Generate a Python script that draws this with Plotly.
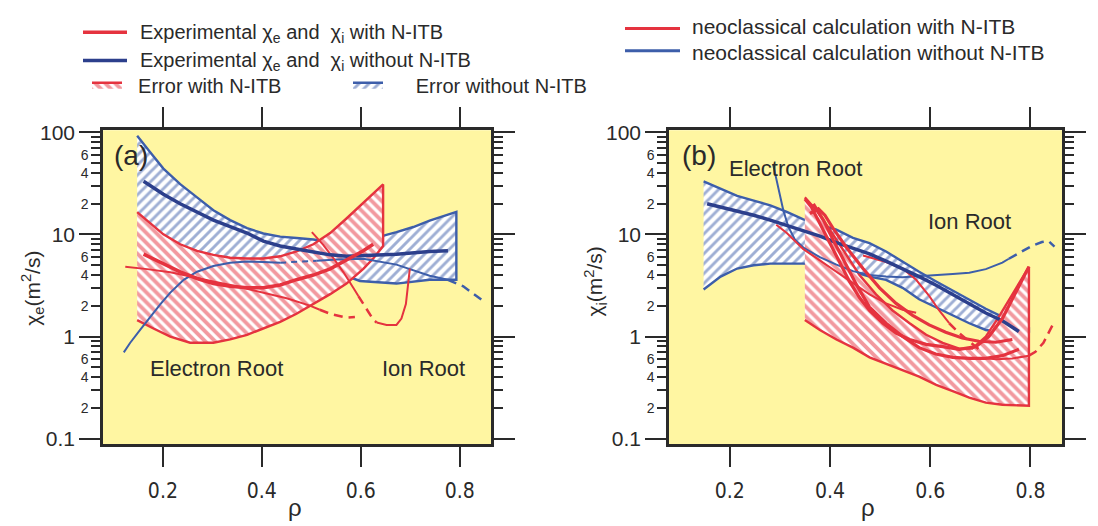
import plotly.graph_objects as go

RED = '#E5333F'
BLUE = '#3D5EAA'
DBLUE = '#2C3F8C'
YELLOW = '#FFF6A2'
AX = '#2a2a2a'
W, H = 1098, 526

# ---------------- panel (a): chi_e ----------------
a_bband_up_x = [0.148, 0.161, 0.174, 0.201, 0.235, 0.269, 0.302, 0.336, 0.370, 0.403, 0.437,
                0.470, 0.504, 0.538, 0.571, 0.605, 0.639, 0.672, 0.706, 0.739, 0.793]
a_bband_up_y = [92, 76, 64, 44, 31, 23, 17.2, 13.8, 11.5, 10.2, 9.5, 9.2, 8.9, 8.4, 8.3, 8.6,
                9.5, 10.5, 11.8, 13.6, 16.6]
a_bband_lo_x = [0.148, 0.269, 0.403, 0.538, 0.598, 0.672, 0.739, 0.793]
a_bband_lo_y = [5.8, 5.4, 5.0, 4.5, 3.5, 3.3, 3.6, 3.6]

a_rband_up_x = [0.148, 0.174, 0.201, 0.235, 0.269, 0.302, 0.336, 0.370, 0.403, 0.437, 0.470,
                0.504, 0.538, 0.571, 0.605, 0.625, 0.645]
a_rband_up_y = [16.5, 12.9, 10.0, 8.0, 6.9, 6.3, 5.9, 5.8, 5.8, 6.1, 6.8, 8.0, 10.3, 14.3,
                20.2, 24.7, 30.8]
a_rband_lo_x = [0.148, 0.161, 0.181, 0.215, 0.255, 0.302, 0.336, 0.370, 0.403, 0.437, 0.470,
                0.504, 0.538, 0.571, 0.605, 0.625, 0.645]
a_rband_lo_y = [1.45, 1.35, 1.2, 1.0, 0.87, 0.87, 0.94, 1.04, 1.2, 1.39, 1.67, 2.1, 2.6, 3.3,
                4.6, 5.8, 7.7]

a_bexp_x = [0.161, 0.201, 0.235, 0.269, 0.302, 0.336, 0.370, 0.403, 0.437, 0.470, 0.504,
            0.538, 0.571, 0.605, 0.672, 0.739, 0.776]
a_bexp_y = [33.1, 24.7, 19.9, 16.5, 13.8, 11.9, 10.3, 8.6, 7.7, 7.2, 6.7, 6.3, 6.1, 6.2, 6.4,
            6.8, 6.9]

a_rexp_x = [0.161, 0.201, 0.235, 0.269, 0.302, 0.336, 0.370, 0.403, 0.437, 0.470, 0.504,
            0.538, 0.571, 0.605, 0.625]
a_rexp_y = [6.4, 5.2, 4.3, 3.7, 3.3, 3.1, 3.0, 3.0, 3.2, 3.6, 4.0, 4.6, 5.6, 6.9, 8.0]

a_bneo1_x = [0.121, 0.134, 0.154, 0.174, 0.195, 0.215, 0.242, 0.269, 0.302, 0.336, 0.370,
             0.403, 0.437]
a_bneo1_y = [0.70, 0.87, 1.16, 1.56, 2.08, 2.69, 3.59, 4.31, 4.91, 5.28, 5.44, 5.36, 5.28]
a_bneo2_x = [0.437, 0.470, 0.511]
a_bneo2_y = [5.28, 5.36, 5.52]
a_bneo3_x = [0.511, 0.551, 0.605, 0.672, 0.739, 0.776]
a_bneo3_y = [5.52, 5.69, 5.77, 5.06, 3.94, 3.59]
a_bneo4_x = [0.776, 0.807, 0.844]
a_bneo4_y = [3.59, 3.10, 2.29]

a_rneo1_x = [0.124, 0.168, 0.215, 0.269, 0.309, 0.349, 0.403, 0.450, 0.497, 0.517]
a_rneo1_y = [4.81, 4.57, 4.25, 3.78, 3.41, 3.10, 2.69, 2.37, 2.01, 1.83]
a_rneo2_x = [0.517, 0.538, 0.571, 0.588]
a_rneo2_y = [1.83, 1.67, 1.53, 1.55]
a_rneo3_x = [0.501, 0.524, 0.544, 0.565, 0.585, 0.595]
a_rneo3_y = [10.5, 7.9, 5.9, 4.25, 2.99, 2.49]
a_rneo4_x = [0.595, 0.605, 0.625, 0.632]
a_rneo4_y = [2.49, 2.08, 1.47, 1.37]
a_rneo5_x = [0.632, 0.652, 0.672, 0.682, 0.691, 0.699]
a_rneo5_y = [1.37, 1.30, 1.30, 1.50, 2.08, 4.63]

# ---------------- panel (b): chi_i ----------------
b_bband_up_x = [0.148, 0.182, 0.215, 0.248, 0.281, 0.314, 0.347, 0.380, 0.413, 0.446, 0.479,
                0.512, 0.545, 0.578, 0.612, 0.645, 0.678, 0.711, 0.744, 0.770, 0.797]
b_bband_up_y = [33, 28.2, 23.8, 21.4, 19.2, 16.6, 14.0, 12.4, 11.1, 9.25, 8.2, 6.8, 5.4, 4.3,
                3.46, 2.83, 2.32, 1.87, 1.56, 1.35, 1.21]
b_bband_lo_x = [0.148, 0.162, 0.182, 0.215, 0.248, 0.281, 0.314, 0.347, 0.380, 0.413, 0.446,
                0.479, 0.512, 0.545, 0.578, 0.612, 0.645, 0.678, 0.711, 0.744, 0.797]
b_bband_lo_y = [2.89, 3.22, 3.86, 4.63, 4.98, 5.17, 5.17, 5.17, 4.98, 4.81, 4.31, 3.86, 3.59,
                3.0, 2.32, 1.94, 1.61, 1.35, 1.16, 1.10, 1.12]

b_rband_up_x = [0.350, 0.373, 0.400, 0.426, 0.459, 0.492, 0.525, 0.559, 0.592, 0.625, 0.658,
                0.684, 0.711, 0.737, 0.764, 0.797]
b_rband_up_y = [23.0, 17.2, 11.1, 7.17, 4.01, 2.59, 1.80, 1.35, 1.04, 0.869, 0.762, 0.762,
                1.00, 1.56, 2.59, 4.81]
b_rband_lo_x = [0.350, 0.380, 0.413, 0.446, 0.479, 0.512, 0.545, 0.578, 0.612, 0.645, 0.678,
                0.711, 0.744, 0.797]
b_rband_lo_y = [1.45, 1.16, 0.935, 0.779, 0.626, 0.541, 0.468, 0.405, 0.337, 0.292, 0.252,
                0.226, 0.215, 0.210]

b_bexp_x = [0.155, 0.182, 0.215, 0.248, 0.281, 0.314, 0.347, 0.380, 0.413, 0.446, 0.479,
            0.512, 0.545, 0.578, 0.612, 0.645, 0.678, 0.711, 0.744, 0.777]
b_bexp_y = [19.9, 18.5, 16.9, 15.4, 13.8, 12.2, 10.7, 9.6, 8.3, 7.28, 6.43, 5.48, 4.63, 3.86,
            3.18, 2.59, 2.08, 1.70, 1.43, 1.12]

b_rexp1_x = [0.350, 0.363, 0.380, 0.400, 0.420, 0.439, 0.459, 0.479, 0.506, 0.532, 0.559,
             0.592, 0.625, 0.658, 0.691, 0.717, 0.744, 0.770, 0.797]
b_rexp1_y = [22.2, 18.5, 12.8, 8.3, 5.36, 3.46, 2.41, 1.80, 1.35, 1.08, 0.935, 0.838, 0.796,
             0.751, 0.796, 1.00, 1.50, 2.69, 4.81]
b_rexp2_x = [0.367, 0.387, 0.406, 0.426, 0.453, 0.479, 0.512, 0.545, 0.578, 0.611, 0.645,
             0.678, 0.711, 0.744, 0.777]
b_rexp2_y = [19.9, 13.8, 8.92, 5.77, 3.22, 1.94, 1.35, 1.00, 0.779, 0.674, 0.626, 0.613,
             0.613, 0.65, 0.751]
b_rexp3_x = [0.360, 0.377, 0.390, 0.406, 0.433, 0.466, 0.499, 0.532, 0.565, 0.598, 0.631,
             0.664, 0.697, 0.731, 0.764]
b_rexp3_y = [16.0, 17.8, 15.4, 11.5, 7.44, 4.63, 3.0, 2.11, 1.61, 1.30, 1.10, 0.969, 0.90,
             0.88, 0.935]

b_bneo1_x = [0.287, 0.297, 0.307, 0.317, 0.330, 0.347, 0.380, 0.413, 0.446, 0.479, 0.512,
             0.545, 0.578, 0.612, 0.645, 0.678, 0.711, 0.744, 0.757]
b_bneo1_y = [47.6, 28.6, 17.2, 11.9, 8.92, 7.44, 5.98, 5.06, 4.37, 4.01, 3.86, 3.81, 3.89,
             4.01, 4.10, 4.22, 4.57, 5.28, 5.77]
b_bneo2_x = [0.757, 0.777, 0.803, 0.823, 0.836, 0.848]
b_bneo2_y = [5.77, 6.57, 7.72, 8.42, 8.60, 7.60]

b_rneo1_x = [0.293, 0.314, 0.347, 0.380, 0.413, 0.446, 0.479, 0.512, 0.545, 0.572]
b_rneo1_y = [12.4, 10.3, 7.17, 5.56, 4.31, 3.34, 2.59, 2.11, 1.83, 1.71]
b_rneo2_x = [0.466, 0.512, 0.545, 0.572, 0.598, 0.618, 0.638]
b_rneo2_y = [6.2, 5.36, 4.63, 3.59, 2.50, 1.80, 1.35]
b_rneo3_x = [0.638, 0.658, 0.678, 0.697]
b_rneo3_y = [1.35, 1.08, 0.90, 0.751]
b_rneo4_x = [0.711, 0.731, 0.764, 0.797]
b_rneo4_y = [0.613, 0.60, 0.61, 0.65]
b_rneo5_x = [0.797, 0.810, 0.826, 0.840, 0.846]
b_rneo5_y = [0.65, 0.709, 0.869, 1.16, 1.35]

# axis ticks / labels
x_ticks = [0.2, 0.4, 0.6, 0.8]
x_tick_text = ['0.2', '0.4', '0.6', '0.8']
y_major = [0.1, 1, 10, 100]
y_major_text = ['0.1', '1', '10', '100']
y_small = [0.2, 0.4, 0.6, 2, 4, 6, 20, 40, 60]
y_small_text = ['2', '4', '6', '2', '4', '6', '2', '4', '6']
y_minor = [0.3, 0.5, 0.7, 0.8, 0.9, 3, 5, 7, 8, 9, 30, 50, 70, 80, 90]

X_RANGE = [0.079, 0.863]
Y_RANGE = [-1.055, 2.019]


def pxx(x):
    return x / W


def pyy(y):
    return 1 - y / H


fig = go.Figure()


def band(ux, uy, lx, ly, color, shape, name, xa, ya, show, rank, sol):
    fig.add_trace(go.Scatter(
        x=list(ux) + list(lx)[::-1], y=list(uy) + list(ly)[::-1],
        mode='lines', fill='toself', fillcolor='white',
        fillpattern=dict(shape=shape, fgcolor=color, bgcolor='white', size=7, solidity=sol),
        line=dict(color=color, width=2.4), name=name, showlegend=show,
        legendrank=rank, xaxis=xa, yaxis=ya, hoverinfo='skip'))


def line(x, y, color, width, dash, name, xa, ya):
    fig.add_trace(go.Scatter(
        x=x, y=y, mode='lines', line=dict(color=color, width=width, dash=dash),
        name=name, showlegend=False, xaxis=xa, yaxis=ya, hoverinfo='skip'))


EXP_W = 'Experimental χ<sub>e</sub> and  χ<sub>i</sub> with N-ITB'
EXP_WO = 'Experimental χ<sub>e</sub> and  χ<sub>i</sub> without N-ITB'
NEO_W = 'neoclassical calculation with N-ITB'
NEO_WO = 'neoclassical calculation without N-ITB'
ERR_W = '&nbsp;&nbsp;Error with N-ITB'
ERR_WO = '&nbsp;&nbsp;&nbsp;&nbsp;&nbsp;Error without N-ITB'

# panel a
band(a_bband_up_x, a_bband_up_y, a_bband_lo_x, a_bband_lo_y, BLUE, '/', ERR_WO,
     'x', 'y', True, 2, 0.42)
band(a_rband_up_x, a_rband_up_y, a_rband_lo_x, a_rband_lo_y, RED, '\\', ERR_W,
     'x', 'y', True, 1, 0.55)
line(a_bneo1_x, a_bneo1_y, BLUE, 2, 'solid', NEO_WO, 'x', 'y')
line(a_bneo2_x, a_bneo2_y, BLUE, 2, '6px,5px', NEO_WO, 'x', 'y')
line(a_bneo3_x, a_bneo3_y, BLUE, 2, 'solid', NEO_WO, 'x', 'y')
line(a_bneo4_x, a_bneo4_y, BLUE, 2.5, '9px,6px', NEO_WO, 'x', 'y')
line(a_rneo1_x, a_rneo1_y, RED, 2, 'solid', NEO_W, 'x', 'y')
line(a_rneo2_x, a_rneo2_y, RED, 2.5, '9px,6px', NEO_W, 'x', 'y')
line(a_rneo3_x, a_rneo3_y, RED, 2, 'solid', NEO_W, 'x', 'y')
line(a_rneo4_x, a_rneo4_y, RED, 2.5, '9px,6px', NEO_W, 'x', 'y')
line(a_rneo5_x, a_rneo5_y, RED, 2, 'solid', NEO_W, 'x', 'y')
line(a_bexp_x, a_bexp_y, DBLUE, 3.5, 'solid', EXP_WO, 'x', 'y')
line(a_rexp_x, a_rexp_y, RED, 3.5, 'solid', EXP_W, 'x', 'y')

# panel b
band(b_bband_up_x, b_bband_up_y, b_bband_lo_x, b_bband_lo_y, BLUE, '/', ERR_WO,
     'x2', 'y2', False, 2, 0.42)
band(b_rband_up_x, b_rband_up_y, b_rband_lo_x, b_rband_lo_y, RED, '\\', ERR_W,
     'x2', 'y2', False, 1, 0.55)
line(b_bneo1_x, b_bneo1_y, BLUE, 2, 'solid', NEO_WO, 'x2', 'y2')
line(b_bneo2_x, b_bneo2_y, BLUE, 2.5, '9px,6px', NEO_WO, 'x2', 'y2')
line(b_rneo1_x, b_rneo1_y, RED, 2, 'solid', NEO_W, 'x2', 'y2')
line(b_rneo2_x, b_rneo2_y, RED, 2, 'solid', NEO_W, 'x2', 'y2')
line(b_rneo3_x, b_rneo3_y, RED, 2.5, '9px,6px', NEO_W, 'x2', 'y2')
line(b_rneo4_x, b_rneo4_y, RED, 2, 'solid', NEO_W, 'x2', 'y2')
line(b_rneo5_x, b_rneo5_y, RED, 2.5, '9px,6px', NEO_W, 'x2', 'y2')
line(b_bexp_x, b_bexp_y, DBLUE, 3.5, 'solid', EXP_WO, 'x2', 'y2')
line(b_rexp1_x, b_rexp1_y, RED, 3.2, 'solid', EXP_W, 'x2', 'y2')
line(b_rexp2_x, b_rexp2_y, RED, 3.2, 'solid', EXP_W, 'x2', 'y2')
line(b_rexp3_x, b_rexp3_y, RED, 3.2, 'solid', EXP_W, 'x2', 'y2')

TICKFONT = dict(family='Liberation Sans Narrow, DejaVu Sans Condensed, Liberation Sans', size=21,
                color=AX)

xcommon = dict(range=X_RANGE, tickvals=x_ticks, ticktext=x_tick_text,
               ticks='outside', ticklen=20, tickwidth=2, tickcolor=AX, showline=True,
               linewidth=2.5, linecolor=AX, mirror='allticks', showgrid=False, zeroline=False,
               tickfont=TICKFONT, ticklabelstandoff=6)
ysmall = dict(type='log', range=Y_RANGE, tickvals=y_small, ticktext=y_small_text,
              ticks='outside', ticklen=9, tickwidth=2, tickcolor=AX, showline=True,
              linewidth=2.5, linecolor=AX, mirror='allticks', showgrid=False, zeroline=False,
              tickfont=dict(family='Liberation Sans', size=14, color=AX),
              minor=dict(tickvals=y_minor, ticks='outside', ticklen=9, tickwidth=2,
                         tickcolor=AX, showgrid=False))
ybig = dict(type='log', range=Y_RANGE, tickvals=y_major, ticktext=y_major_text,
            ticks='outside', ticklen=21, tickwidth=2, tickcolor=AX, showline=True,
            linewidth=2.5, linecolor=AX, mirror='allticks', showgrid=False, zeroline=False,
            tickfont=dict(family='Liberation Sans', size=21, color=AX), side='left')

Y_DOM = [(H - 448) / H, (H - 124) / H]

fig.update_layout(
    width=W, height=H, margin=dict(l=0, r=0, t=0, b=0),
    paper_bgcolor='white', plot_bgcolor=YELLOW,
    font=dict(family='Liberation Sans, Arial, sans-serif', color=AX),
    xaxis=dict(domain=[103 / W, 491 / W], anchor='y', **xcommon),
    yaxis=dict(domain=Y_DOM, anchor='x', **ysmall),
    yaxis3=dict(overlaying='y', anchor='x', **ybig),
    xaxis2=dict(domain=[669 / W, 1062 / W], anchor='y2', **xcommon),
    yaxis2=dict(domain=Y_DOM, anchor='x2', **ysmall),
    yaxis4=dict(overlaying='y2', anchor='x2', **ybig),
    legend=dict(x=pxx(87), y=pyy(57), xanchor='left', yanchor='top', orientation='h',
                font=dict(size=20, color=AX), itemwidth=30, bgcolor='rgba(0,0,0,0)',
                entrywidth=216, entrywidthmode='pixels', traceorder='normal'),
)

# invisible traces so the overlay axes are drawn
fig.add_trace(go.Scatter(x=[None], y=[None], xaxis='x', yaxis='y3', showlegend=False))
fig.add_trace(go.Scatter(x=[None], y=[None], xaxis='x2', yaxis='y4', showlegend=False))

# line-legend keys (drawn in paper space): line x0, x1, line y, colour, width, text x, text y
legend_rows = [
    (83, 127, 23, RED, 3.5, 138, 24, EXP_W, 20),
    (83, 127, 52, DBLUE, 3.5, 138, 53, EXP_WO, 20),
    (625, 680, 19, RED, 3, 690, 17.5, NEO_W, 21),
    (625, 680, 42, BLUE, 3, 690, 43.5, NEO_WO, 21),
]
for x0, x1, yy, col, lw, tx, ty, txt, fs in legend_rows:
    fig.add_shape(type='line', xref='paper', yref='paper', x0=pxx(x0), x1=pxx(x1),
                  y0=pyy(yy), y1=pyy(yy), line=dict(color=col, width=lw))
    fig.add_annotation(text=txt, x=pxx(tx), y=pyy(ty), xref='paper', yref='paper',
                       showarrow=False, xanchor='left', yanchor='middle',
                       font=dict(size=fs, color=AX))

ann = [
    dict(text='(a)', x=pxx(131), y=pyy(150), size=28),
    dict(text='(b)', x=pxx(699), y=pyy(150), size=28),
    dict(text='Electron Root', x=pxx(216), y=pyy(370), size=22),
    dict(text='Ion Root', x=pxx(423), y=pyy(370), size=22),
    dict(text='Electron Root', x=pxx(795), y=pyy(163), size=22),
    dict(text='Ion Root', x=pxx(969), y=pyy(218), size=22),
    dict(text='ρ', x=pxx(295), y=pyy(513), size=24),
    dict(text='ρ', x=pxx(868), y=pyy(513), size=24),
]
for a in ann:
    fig.add_annotation(text=a['text'], x=a['x'], y=a['y'], xref='paper', yref='paper',
                       showarrow=False, xanchor='center', yanchor='middle',
                       font=dict(size=a['size'], color=AX))
fig.add_annotation(text='χ<sub>e</sub>(m<sup>2</sup>/s)', x=pxx(16), y=pyy(287), xref='paper',
                   yref='paper', showarrow=False, textangle=-90,
                   font=dict(size=21, color=AX))
fig.add_annotation(text='χ<sub>i</sub>(m<sup>2</sup>/s)', x=pxx(595), y=pyy(280), xref='paper',
                   yref='paper', showarrow=False, textangle=-90,
                   font=dict(size=21, color=AX))

fig.write_html('out.html')
